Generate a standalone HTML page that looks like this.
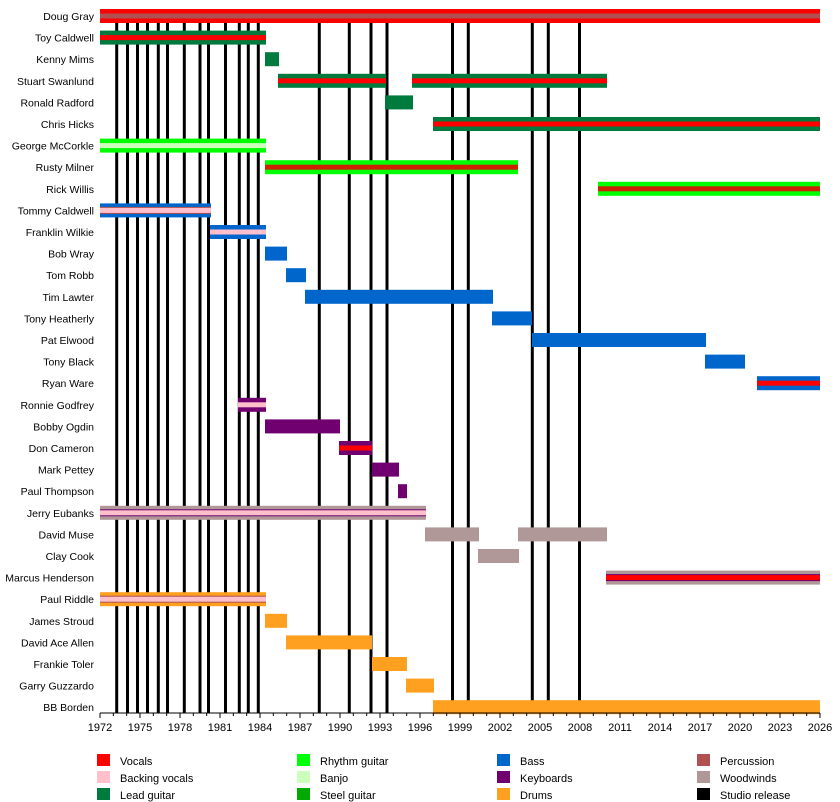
<!DOCTYPE html>
<html><head><meta charset="utf-8"><style>body{margin:0;background:#fff}svg{display:block;font-family:"Liberation Sans",sans-serif}</style></head>
<body>
<svg width="840" height="802" xmlns="http://www.w3.org/2000/svg">
<g id="lines" stroke="#000" stroke-width="3">
</g>
<g id="bars"></g>
<g id="labels" font-size="10.5" text-anchor="end" fill="#000"></g>
<line x1="100" y1="713" x2="820" y2="713" stroke="#000" stroke-width="1"/>
<g id="ticks" stroke="#000" stroke-width="1"></g>
<g id="tl" font-size="11" text-anchor="middle"></g>
<g font-size="11">
<rect x="97" y="754" width="13" height="12" fill="#ff0000"/><text x="120" y="765">Vocals</text>
<rect x="97" y="771" width="13" height="12" fill="#ffc0cb"/><text x="120" y="782">Backing vocals</text>
<rect x="97" y="788" width="13" height="12" fill="#007a3d"/><text x="120" y="799">Lead guitar</text>
<rect x="297" y="754" width="13" height="12" fill="#00ff00"/><text x="320" y="765">Rhythm guitar</text>
<rect x="297" y="771" width="13" height="12" fill="#ccffbb"/><text x="320" y="782">Banjo</text>
<rect x="297" y="788" width="13" height="12" fill="#00aa00"/><text x="320" y="799">Steel guitar</text>
<rect x="497" y="754" width="13" height="12" fill="#0066cc"/><text x="520" y="765">Bass</text>
<rect x="497" y="771" width="13" height="12" fill="#700070"/><text x="520" y="782">Keyboards</text>
<rect x="497" y="788" width="13" height="12" fill="#ffa020"/><text x="520" y="799">Drums</text>
<rect x="697" y="754" width="13" height="12" fill="#b05050"/><text x="720" y="765">Percussion</text>
<rect x="697" y="771" width="13" height="12" fill="#b09898"/><text x="720" y="782">Woodwinds</text>
<rect x="697" y="788" width="13" height="12" fill="#000"/><text x="720" y="799">Studio release</text>
</g>
</svg>
<script>
const NS="http://www.w3.org/2000/svg";
function el(p,t,a,txt){const e=document.createElementNS(NS,t);for(const k in a)e.setAttribute(k,a[k]);if(txt)e.textContent=txt;document.getElementById(p).appendChild(e);}
[116.7,127.5,137.5,147.5,158.3,167.5,184.3,200,208.5,225.5,239.3,248.3,258.3,319.3,349.3,371,387,452.5,468.3,532.3,548.3,579.5].forEach(x=>el("lines","line",{x1:x,y1:9,x2:x,y2:713}));
const R="#ff0000",P="#ffc0cb",LG="#007a3d",RG="#00ff00",BJ="#ccffbb",B="#0066cc",K="#700070",D="#ffa020",PC="#b05050",W="#b09898";
const rows=[
["Doug Gray",[[100,820,R,PC]]],
["Toy Caldwell",[[100,266,LG,R]]],
["Kenny Mims",[[265,279,LG]]],
["Stuart Swanlund",[[278,386,LG,R],[412,607,LG,R]]],
["Ronald Radford",[[385,413,LG]]],
["Chris Hicks",[[433,820,LG,R]]],
["George McCorkle",[[100,266,RG,BJ]]],
["Rusty Milner",[[265,518,RG,"#cc2200"]]],
["Rick Willis",[[598,820,RG,"#cc2200"]]],
["Tommy Caldwell",[[100,211,B,P,PC]]],
["Franklin Wilkie",[[210,266,B,P]]],
["Bob Wray",[[265,287,B]]],
["Tom Robb",[[286,306,B]]],
["Tim Lawter",[[305,493,B]]],
["Tony Heatherly",[[492,532,B]]],
["Pat Elwood",[[532,706,B]]],
["Tony Black",[[705,745,B]]],
["Ryan Ware",[[757,820,B,R]]],
["Ronnie Godfrey",[[238,266,K,P]]],
["Bobby Ogdin",[[265,340,K]]],
["Don Cameron",[[339,372,K,R]]],
["Mark Pettey",[[372,399,K]]],
["Paul Thompson",[[398,407,K]]],
["Jerry Eubanks",[[100,426,W,P,K]]],
["David Muse",[[425,479,W],[518,607,W]]],
["Clay Cook",[[478,519,W]]],
["Marcus Henderson",[[606,820,W,R,K]]],
["Paul Riddle",[[100,266,D,P,PC]]],
["James Stroud",[[265,287,D]]],
["David Ace Allen",[[286,372,D]]],
["Frankie Toler",[[372,407,D]]],
["Garry Guzzardo",[[406,434,D]]],
["BB Borden",[[433,820,D]]]];
rows.forEach((r,i)=>{const c=16+i*21.6;el("labels","text",{x:94,y:c+4},r[0]);
r[1].forEach(b=>{const w=b[1]-b[0];el("bars","rect",{x:b[0],y:c-7,width:w,height:14,fill:b[2]});
if(b[4])el("bars","rect",{x:b[0],y:c-3.5,width:w,height:7,fill:b[4]});
if(b[3])el("bars","rect",{x:b[0],y:c-2.5,width:w,height:5,fill:b[3]});});});
for(let y=1972;y<=2026;y++){const x=100+(y-1972)*720/54;const m=(y-1972)%3==0;el("ticks","line",{x1:x,y1:713,x2:x,y2:m?718:716});if(m)el("tl","text",{x:x,y:731},String(y));}
</script>
</body></html>
